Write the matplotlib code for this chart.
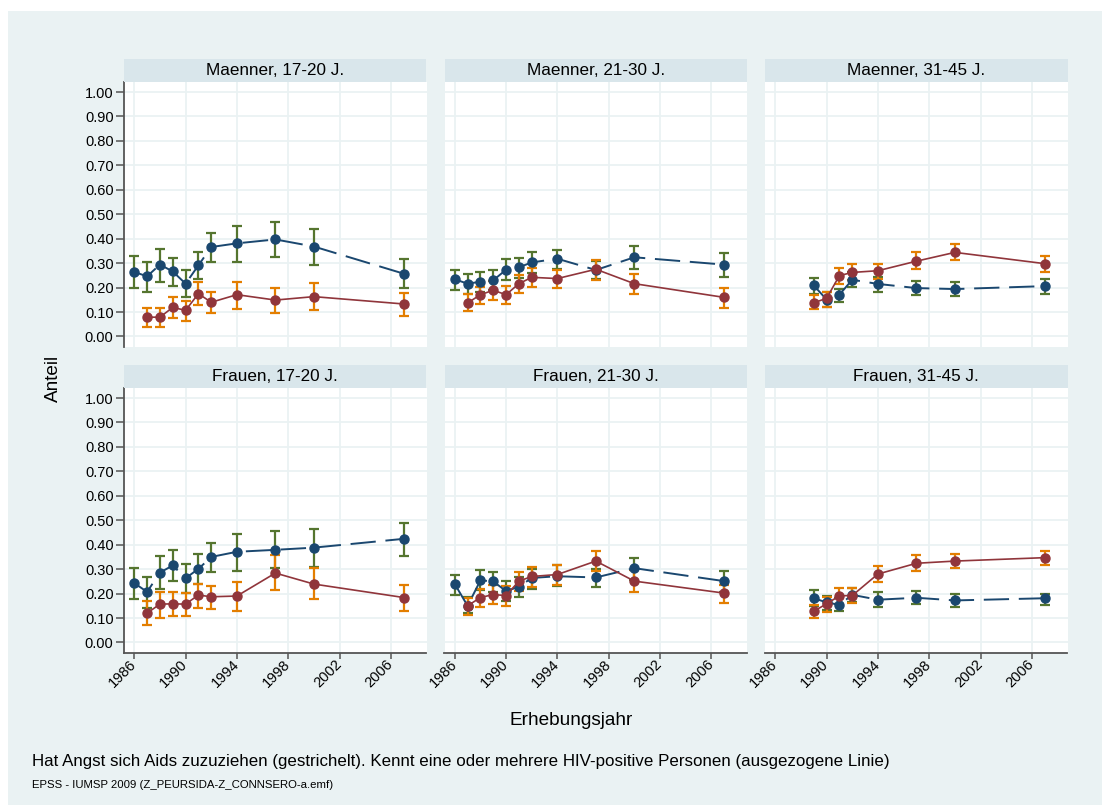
import numpy as np
import matplotlib.pyplot as plt
from matplotlib.patches import Rectangle

plt.rcParams['font.family'] = ['Liberation Sans', 'DejaVu Sans']

nan = np.nan
years = [1986, 1987, 1988, 1989, 1990, 1991, 1992, 1994, 1997, 2000, 2007]
titles = ["Maenner, 17-20 J.", "Maenner, 21-30 J.", "Maenner, 31-45 J.",
          "Frauen, 17-20 J.", "Frauen, 21-30 J.", "Frauen, 31-45 J."]

# Angst vor Aids (gestrichelt), Anteil mit Konfidenzintervall
angst = [
    [0.264, 0.246, 0.294, 0.266, 0.216, 0.291, 0.366, 0.381, 0.397, 0.368, 0.257],
    [0.234, 0.216, 0.224, 0.230, 0.273, 0.283, 0.303, 0.318, 0.272, 0.324, 0.294],
    [nan, nan, nan, 0.209, 0.151, 0.171, 0.232, 0.215, 0.198, 0.194, 0.206],
    [0.243, 0.207, 0.286, 0.315, 0.263, 0.301, 0.350, 0.371, 0.379, 0.388, 0.424],
    [0.239, 0.150, 0.254, 0.250, 0.210, 0.228, 0.264, 0.271, 0.266, 0.304, 0.251],
    [nan, nan, nan, 0.181, 0.164, 0.154, 0.195, 0.175, 0.183, 0.172, 0.181],
]
angst_lo = [
    [0.198, 0.181, 0.224, 0.205, 0.162, 0.234, 0.303, 0.306, 0.324, 0.292, 0.197],
    [0.192, 0.175, 0.182, 0.189, 0.232, 0.241, 0.261, 0.275, 0.234, 0.275, 0.243],
    [nan, nan, nan, 0.173, 0.122, 0.141, 0.202, 0.182, 0.168, 0.164, 0.174],
    [0.177, 0.143, 0.218, 0.251, 0.202, 0.241, 0.289, 0.294, 0.303, 0.309, 0.354],
    [0.196, 0.120, 0.213, 0.207, 0.168, 0.188, 0.218, 0.232, 0.226, 0.256, 0.207],
    [nan, nan, nan, 0.150, 0.134, 0.127, 0.167, 0.146, 0.157, 0.146, 0.154],
]
angst_hi = [
    [0.329, 0.306, 0.357, 0.321, 0.273, 0.345, 0.423, 0.453, 0.468, 0.439, 0.317],
    [0.273, 0.254, 0.265, 0.272, 0.317, 0.322, 0.347, 0.355, 0.310, 0.371, 0.343],
    [nan, nan, nan, 0.239, 0.181, 0.196, 0.264, 0.242, 0.227, 0.221, 0.235],
    [0.305, 0.267, 0.354, 0.379, 0.322, 0.360, 0.409, 0.445, 0.458, 0.463, 0.490],
    [0.278, 0.188, 0.296, 0.289, 0.250, 0.267, 0.300, 0.316, 0.301, 0.347, 0.294],
    [nan, nan, nan, 0.213, 0.191, 0.181, 0.222, 0.205, 0.209, 0.199, 0.200],
]

# kennt HIV-positive Personen (ausgezogen)
kennt = [
    [nan, 0.079, 0.079, 0.119, 0.107, 0.175, 0.140, 0.171, 0.149, 0.163, 0.133],
    [nan, 0.137, 0.171, 0.189, 0.171, 0.216, 0.242, 0.237, 0.275, 0.216, 0.160],
    [nan, nan, nan, 0.138, 0.156, 0.249, 0.262, 0.269, 0.308, 0.344, 0.298],
    [nan, 0.120, 0.157, 0.158, 0.157, 0.194, 0.187, 0.190, 0.284, 0.239, 0.184],
    [nan, 0.150, 0.184, 0.196, 0.192, 0.251, 0.270, 0.278, 0.333, 0.251, 0.202],
    [nan, nan, nan, 0.128, 0.158, 0.191, 0.192, 0.280, 0.324, 0.333, 0.347],
]
kennt_lo = [
    [nan, 0.039, 0.039, 0.075, 0.064, 0.129, 0.096, 0.113, 0.096, 0.107, 0.084],
    [nan, 0.103, 0.133, 0.151, 0.132, 0.179, 0.202, 0.198, 0.231, 0.175, 0.118],
    [nan, nan, nan, 0.113, 0.122, 0.215, 0.230, 0.237, 0.276, 0.311, 0.264],
    [nan, 0.070, 0.101, 0.107, 0.107, 0.143, 0.137, 0.128, 0.213, 0.176, 0.128],
    [nan, 0.111, 0.146, 0.158, 0.150, 0.209, 0.228, 0.236, 0.292, 0.206, 0.161],
    [nan, nan, nan, 0.101, 0.126, 0.158, 0.161, 0.247, 0.292, 0.305, 0.315],
]
kennt_hi = [
    [nan, 0.115, 0.118, 0.162, 0.147, 0.221, 0.182, 0.221, 0.198, 0.217, 0.178],
    [nan, 0.173, 0.204, 0.228, 0.205, 0.253, 0.279, 0.273, 0.311, 0.255, 0.197],
    [nan, nan, nan, 0.168, 0.181, 0.280, 0.295, 0.296, 0.345, 0.379, 0.329],
    [nan, 0.168, 0.206, 0.206, 0.203, 0.241, 0.233, 0.248, 0.356, 0.305, 0.237],
    [nan, 0.180, 0.220, 0.237, 0.232, 0.289, 0.308, 0.318, 0.373, 0.297, 0.237],
    [nan, nan, nan, 0.153, 0.186, 0.221, 0.222, 0.311, 0.356, 0.362, 0.376],
]

xticks = [1986, 1990, 1994, 1998, 2002, 2006]
yticks = np.arange(0, 1.01, 0.1)

navy = '#1a476f'
maroon = '#90353b'
green = '#55752f'
orange = '#e37e00'
bg = '#eaf2f3'
strip = '#d9e6eb'
axcol = '#555555'

W, H = 1102, 805


def box(x0, y0, x1, y1):
    return [x0 / W, 1 - y1 / H, (x1 - x0) / W, (y1 - y0) / H]


fig = plt.figure(figsize=(W / 100, H / 100), dpi=100)
fig.patch.set_facecolor('white')
fig.add_artist(Rectangle((8 / W, 0), 1, 1 - 11 / H, transform=fig.transFigure,
                         facecolor=bg, edgecolor='none', zorder=-5))

col_left = [124, 444.5, 765]
col_w = 302.5
row_top = [82, 388]
row_h = 265
strip_h = 23

for i in range(6):
    r, c = divmod(i, 3)
    x0 = col_left[c]
    y0 = row_top[r]
    ax = fig.add_axes(box(x0, y0, x0 + col_w, y0 + row_h))
    ax.set_facecolor('white')

    # panel header
    sx, sy, sw, sh = box(x0, y0 - strip_h, x0 + col_w, y0)
    fig.add_artist(Rectangle((sx, sy), sw, sh, transform=fig.transFigure,
                             facecolor=strip, edgecolor='none'))
    fig.text(sx + sw / 2, sy + sh / 2, titles[i], ha='center', va='center',
             fontsize=12.3, color='black')

    a = np.array(angst[i])
    k = np.array(kennt[i])
    ax.errorbar(years, a, yerr=[a - np.array(angst_lo[i]), np.array(angst_hi[i]) - a],
                fmt='none', ecolor=green, elinewidth=1.6, capsize=3.6, capthick=1.6, zorder=2)
    ax.errorbar(years, k, yerr=[k - np.array(kennt_lo[i]), np.array(kennt_hi[i]) - k],
                fmt='none', ecolor=orange, elinewidth=1.6, capsize=3.6, capthick=1.6, zorder=3)
    ax.plot(years, a, color=navy, lw=1.4, ls=(0, (13, 5)), marker='o', ms=6.5,
            mfc=navy, mec=navy, zorder=4)
    ax.plot(years, k, color=maroon, lw=1.2, marker='o', ms=6.5,
            mfc=maroon, mec=maroon, zorder=5)

    ax.set_xlim(1985.2, 2008.78)
    ax.set_ylim(-0.043, 1.041)
    ax.set_xticks(xticks)
    ax.set_yticks(yticks)
    ax.set_yticklabels(['%.2f' % v for v in yticks], fontsize=10.5)
    ax.set_xticklabels([str(v) for v in xticks], fontsize=10.5, rotation=45,
                       ha='right', va='center', rotation_mode='anchor')
    ax.grid(True, color=bg, lw=1.3)
    ax.set_axisbelow(True)

    for s in ax.spines.values():
        s.set_visible(False)
    ax.tick_params(axis='y', length=6, width=1.1, color=axcol, pad=1.5)
    ax.tick_params(axis='x', length=4.5, width=1.1, color=axcol, pad=2)
    if c == 0:
        ax.spines['left'].set_visible(True)
        ax.spines['left'].set_color(axcol)
        ax.spines['left'].set_linewidth(1.3)
    else:
        ax.tick_params(axis='y', left=False, labelleft=False)
    if r == 1:
        ax.spines['bottom'].set_visible(True)
        ax.spines['bottom'].set_color(axcol)
        ax.spines['bottom'].set_linewidth(1.3)
    else:
        ax.tick_params(axis='x', bottom=False, labelbottom=False)

fig.text(53 / W, 1 - 378 / H, 'Anteil', rotation=90, ha='center', va='center',
         fontsize=13.7)
fig.text(571.5 / W, 1 - 725 / H, 'Erhebungsjahr', ha='center', va='baseline',
         fontsize=13.7)
fig.text(32 / W, 1 - 766 / H,
         'Hat Angst sich Aids zuzuziehen (gestrichelt). Kennt eine oder mehrere '
         'HIV-positive Personen (ausgezogene Linie)',
         ha='left', va='baseline', fontsize=12.2)
fig.text(32 / W, 1 - 787.5 / H, 'EPSS - IUMSP 2009 (Z_PEURSIDA-Z_CONNSERO-a.emf)',
         ha='left', va='baseline', fontsize=8.2)

fig.savefig('out.png', dpi=100, facecolor=fig.get_facecolor())
